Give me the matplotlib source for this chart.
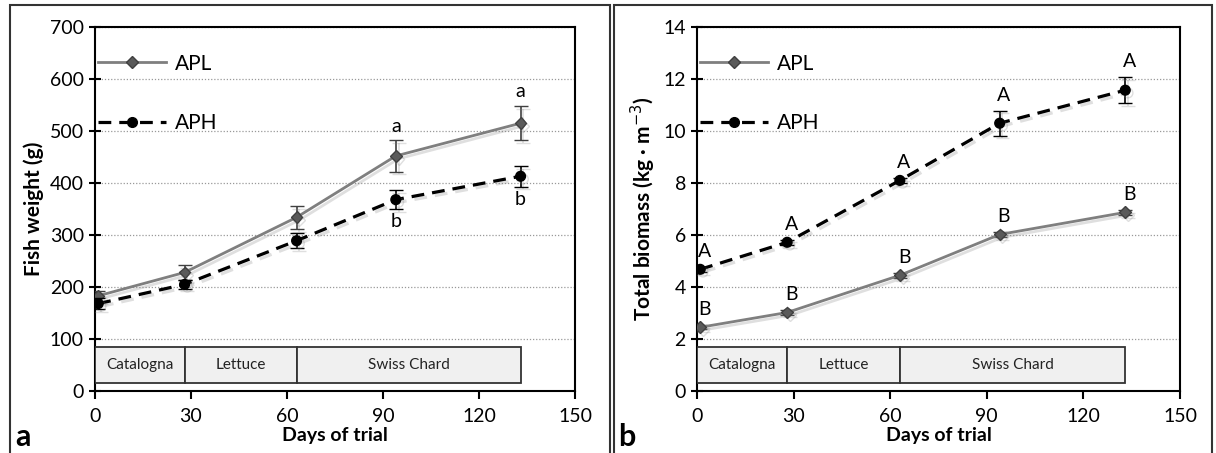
import matplotlib.pyplot as plt
import matplotlib.patheffects as pe
from matplotlib.patches import Rectangle
from matplotlib.lines import Line2D

plt.rcParams['font.family'] = ['Lato', 'DejaVu Sans']

days = [1, 28, 63, 94, 133]

# panel a: fish weight (g)
apl_w = [183, 228, 334, 452, 515]
apl_w_err = [10, 14, 22, 30, 33]
aph_w = [168, 205, 289, 368, 413]
aph_w_err = [10, 8, 14, 18, 20]

# panel b: total biomass (kg m-3)
apl_b = [2.45, 3.02, 4.45, 6.02, 6.87]
apl_b_err = [0.08, 0.08, 0.1, 0.1, 0.1]
aph_b = [4.68, 5.72, 8.1, 10.3, 11.57]
aph_b_err = [0.1, 0.1, 0.1, 0.48, 0.5]

# crop periods
crops = ['Catalogna', 'Lettuce', 'Swiss Chard']
crop_start = [0, 28, 63]
crop_end = [28, 63, 133]

letters_w_top = ['', '', '', 'a', 'a']
letters_w_bot = ['', '', '', 'b', 'b']
letters_b_aph = ['A', 'A', 'A', 'A', 'A']
letters_b_apl = ['B', 'B', 'B', 'B', 'B']

fig = plt.figure(figsize=(12.16, 4.53), dpi=100)

shadow = [pe.SimpleLineShadow(offset=(2, -2), alpha=0.25, shadow_color='gray'), pe.Normal()]

apl_style = dict(color='#7f7f7f', lw=2, marker='D', ms=6, mfc='#5a5a5a', mec='#404040')
aph_style = dict(color='black', lw=2.3, ls=(0, (4, 2.5)), marker='o', ms=7, mfc='black', mec='black')


def draw_panel(ax, apl, apl_err, aph, aph_err, ymax, ystep, box_lo, box_hi, ylabel):
    ax.errorbar(days, apl, yerr=apl_err, capsize=5, elinewidth=1.2, ecolor='#404040',
                zorder=4, path_effects=shadow, **apl_style)
    ax.errorbar(days, aph, yerr=aph_err, capsize=5, elinewidth=1.2, ecolor='black',
                zorder=5, path_effects=shadow, **aph_style)
    for s, e, name in zip(crop_start, crop_end, crops):
        ax.add_patch(Rectangle((s, box_lo), e - s, box_hi - box_lo, facecolor='#f0f0f0',
                               edgecolor='#333333', lw=1.3, zorder=3))
        ax.text((s + e) / 2, (box_lo + box_hi) / 2, name, ha='center', va='center',
                fontsize=11, color='#222222', zorder=4)
    ax.set_xlim(0, 150)
    ax.set_ylim(0, ymax)
    ax.set_xticks(range(0, 151, 30))
    ax.set_yticks([ystep * i for i in range(int(ymax / ystep) + 1)])
    ax.yaxis.grid(True, ls=(0, (1, 1.5)), color='#999999', lw=0.9)
    ax.set_axisbelow(True)
    ax.tick_params(axis='y', direction='inout', length=8, width=1.5, labelsize=14, pad=4)
    ax.tick_params(axis='x', direction='out', length=6, width=1.5, labelsize=14, pad=6)
    for sp in ax.spines.values():
        sp.set_linewidth(1.5)
    ax.set_xlabel('Days of trial', fontsize=14, fontweight='bold', labelpad=2)
    ax.set_ylabel(ylabel, fontsize=15, fontweight='bold', labelpad=4)
    handles = [Line2D([], [], **apl_style), Line2D([], [], **aph_style)]
    ax.legend(handles, ['APL', 'APH'], loc='upper left', frameon=False, fontsize=15,
              handlelength=3.3, labelspacing=1.9, borderaxespad=0.0, handletextpad=0.4,
              borderpad=0.4, bbox_to_anchor=(-0.012, 0.95))


ax1 = fig.add_axes([95 / 1216, 62 / 453, 480 / 1216, 364 / 453])
draw_panel(ax1, apl_w, apl_w_err, aph_w, aph_w_err, 700, 100, 15, 85, 'Fish weight (g)')
for d, v, err, t in zip(days, apl_w, apl_w_err, letters_w_top):
    if t:
        ax1.annotate(t, (d, v + err), xytext=(0, 4), textcoords='offset points',
                     ha='center', va='bottom', fontsize=14)
for d, v, err, t in zip(days, aph_w, aph_w_err, letters_w_bot):
    if t:
        ax1.annotate(t, (d, v - err), xytext=(0, -3), textcoords='offset points',
                     ha='center', va='top', fontsize=14)

ax2 = fig.add_axes([697 / 1216, 62 / 453, 483 / 1216, 364 / 453])
draw_panel(ax2, apl_b, apl_b_err, aph_b, aph_b_err, 14, 2, 0.3, 1.7,
           'Total biomass (kg · m$^{-3}$)')
for d, v, err, t in zip(days, aph_b, aph_b_err, letters_b_aph):
    ax2.annotate(t, (d, v + err), xytext=(3, 5), textcoords='offset points',
                 ha='center', va='bottom', fontsize=14)
for d, v, err, t in zip(days, apl_b, apl_b_err, letters_b_apl):
    ax2.annotate(t, (d, v + err), xytext=(3, 5), textcoords='offset points',
                 ha='center', va='bottom', fontsize=14)

fig.text(15 / 1216, 1 - 437 / 453, 'a', fontsize=22, fontweight='bold', va='center')
fig.text(618 / 1216, 1 - 437 / 453, 'b', fontsize=22, fontweight='bold', va='center')

# panel frames
fig.add_artist(Rectangle((10 / 1216, -0.02), 600 / 1216, 1.01, transform=fig.transFigure,
                         fill=False, edgecolor='#333333', lw=1.5))
fig.add_artist(Rectangle((614 / 1216, -0.02), 598 / 1216, 1.01, transform=fig.transFigure,
                         fill=False, edgecolor='#333333', lw=1.5))

fig.savefig('out.png', dpi=100)
